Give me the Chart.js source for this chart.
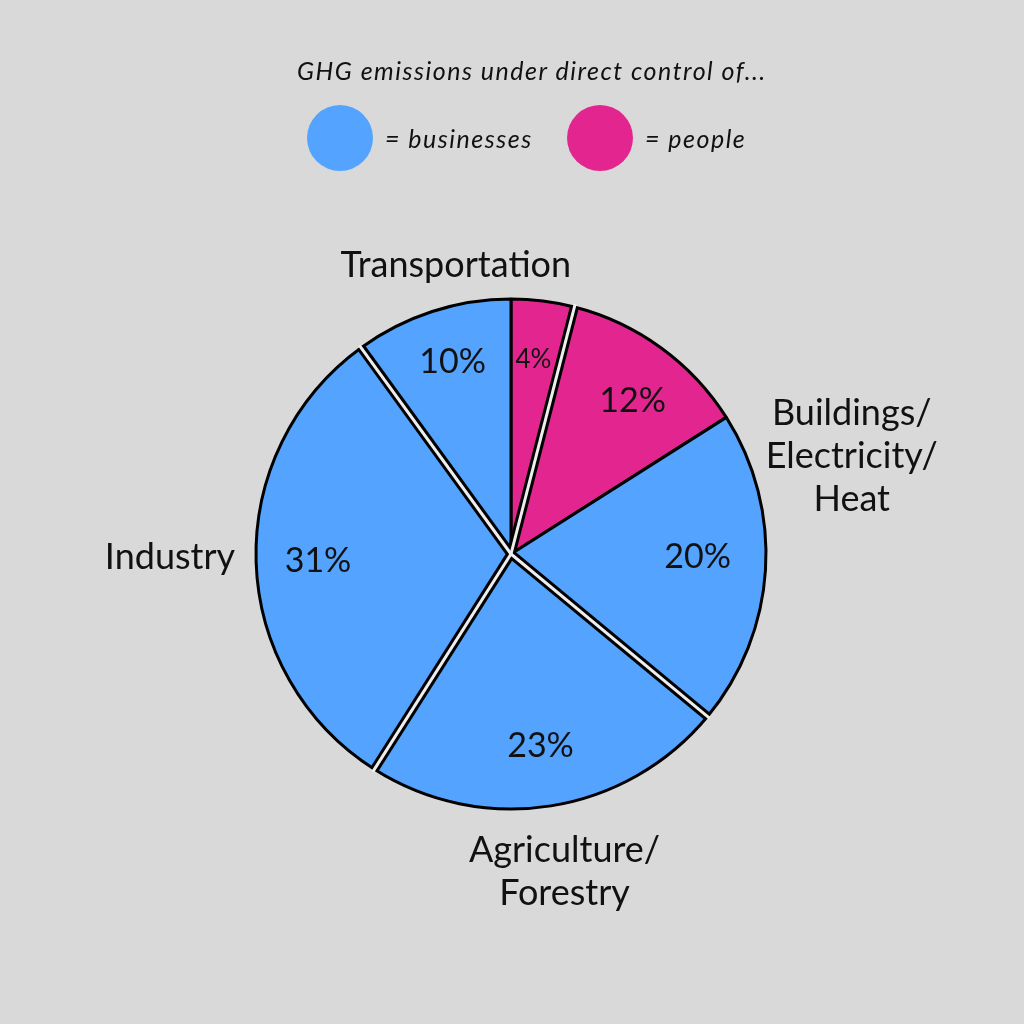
<!DOCTYPE html>
<html><head><meta charset="utf-8">
<script src="https://cdn.jsdelivr.net/npm/chart.js@4.4.1/dist/chart.umd.min.js"></script>
<style>
html,body{margin:0;padding:0;background:#d9d9d9;}
#wrap{position:relative;width:1024px;height:1024px;overflow:hidden;}
#c{position:absolute;left:0;top:0;}
#title{position:absolute;left:297px;top:55px;font:italic 25px Lato;letter-spacing:1.5px;color:#111;white-space:nowrap;}
.lg{position:absolute;top:105px;height:66px;display:flex;align-items:center;font:italic 25px Lato;letter-spacing:1.5px;color:#111;white-space:nowrap;}
.dot{width:66px;height:66px;border-radius:50%;margin-right:12px;}
</style></head>
<body>
<div id="wrap">
<canvas id="c" width="1024" height="1024"></canvas>
<div id="title">GHG emissions under direct control of...</div>
<div id="legend"></div>
</div>
<script>
const titleText = "GHG emissions under direct control of...";
const sectors = ["Transportation", "Buildings/\nElectricity/\nHeat", "Agriculture/\nForestry", "Industry"];
const sliceSector = [0, 1, 1, 2, 3, 0];
const sliceGroup = ["people", "people", "businesses", "businesses", "businesses", "businesses"];
const sliceValues = [4, 12, 20, 23, 31, 10];
const groupNames = ["businesses", "people"];

// styling / placement tweaks (not data)
const groupColors = { businesses: "#53a3ff", people: "#e3268f" };
const FONT = "Lato, 'Noto Sans', sans-serif";
const sectorLabelNudge = [[0, 0], [-5, 13], [4, 4], [-3, -9]];
const pctNudge = [[-2, -2], [7, 4], [-8, -10], [-1, -2], [2, 0], [2, -8]];

document.getElementById('title').textContent = titleText;
const legendLeft = [307, 567];
const lg = document.getElementById('legend');
groupNames.forEach((g, i) => {
  const d = document.createElement('div');
  d.className = 'lg';
  d.style.left = legendLeft[i] + 'px';
  d.innerHTML = '<div class="dot" style="background:' + groupColors[g] + '"></div><span>= ' + g + '</span>';
  lg.appendChild(d);
});

const gapPlugin = {
  id: 'sectorGaps',
  afterDatasetsDraw(chart) {
    const arcs = chart.getDatasetMeta(0).data;
    const ctx = chart.ctx;
    const n = arcs.length;
    const bounds = [];
    for (let i = 0; i < n; i++) {
      const j = (i + 1) % n;
      if (sliceSector[i] !== sliceSector[j]) bounds.push(arcs[i].endAngle);
    }
    const { x, y, outerRadius } = arcs[0];
    ctx.save();
    ctx.lineCap = 'butt';
    ctx.strokeStyle = '#000';
    ctx.lineWidth = 9;
    bounds.forEach(a => {
      ctx.beginPath(); ctx.moveTo(x, y);
      ctx.lineTo(x + Math.cos(a) * outerRadius, y + Math.sin(a) * outerRadius);
      ctx.stroke();
    });
    ctx.strokeStyle = '#eeeeee';
    ctx.lineWidth = 3;
    bounds.forEach(a => {
      ctx.beginPath(); ctx.moveTo(x, y);
      ctx.lineTo(x + Math.cos(a) * (outerRadius + 3), y + Math.sin(a) * (outerRadius + 3));
      ctx.stroke();
    });
    ctx.restore();
  }
};

// draw text so that its cap-height centre sits on (cx, cy)
function capText(ctx, txt, cx, cy, size) {
  ctx.fillText(txt, cx, cy + size * 0.36);
}

const labelPlugin = {
  id: 'labels',
  afterDraw(chart) {
    const arcs = chart.getDatasetMeta(0).data;
    const ctx = chart.ctx;
    const { x, y, outerRadius: r } = arcs[0];
    ctx.save();
    ctx.fillStyle = '#111';
    ctx.textAlign = 'center';
    ctx.textBaseline = 'alphabetic';
    arcs.forEach((arc, i) => {
      const mid = (arc.startAngle + arc.endAngle) / 2;
      const d = r * 0.765;
      const size = sliceValues[i] < 5 ? 26 : 34;
      ctx.font = size + 'px ' + FONT;
      capText(ctx, sliceValues[i] + '%', x + Math.cos(mid) * d + pctNudge[i][0], y + Math.sin(mid) * d + pctNudge[i][1], size);
    });
    const size = 36;
    ctx.font = size + 'px ' + FONT;
    const lh = 43, gap = 18;
    sectors.forEach((name, s) => {
      const idx = [];
      sliceSector.forEach((v, i) => { if (v === s) idx.push(i); });
      const ref = (arcs[idx[0]].startAngle + arcs[idx[0]].endAngle) / 2;
      let lo = Infinity, hi = -Infinity;
      idx.forEach(i => {
        let a0 = arcs[i].startAngle, a1 = arcs[i].endAngle;
        while (a0 - ref > Math.PI) { a0 -= 2 * Math.PI; a1 -= 2 * Math.PI; }
        while (ref - a1 > Math.PI) { a0 += 2 * Math.PI; a1 += 2 * Math.PI; }
        lo = Math.min(lo, a0); hi = Math.max(hi, a1);
      });
      const mid = (lo + hi) / 2;
      const lines = name.split('\n');
      let w = 0;
      lines.forEach(l => { w = Math.max(w, ctx.measureText(l).width); });
      const h = lines.length * lh;
      const c = Math.cos(mid), sn = Math.sin(mid);
      const ex = Math.abs(c) > 1e-6 ? (w / 2) / Math.abs(c) : Infinity;
      const ey = Math.abs(sn) > 1e-6 ? (h / 2) / Math.abs(sn) : Infinity;
      const d = r + gap + Math.min(ex, ey);
      const cx = x + c * d + sectorLabelNudge[s][0], cy = y + sn * d + sectorLabelNudge[s][1];
      lines.forEach((ln, k) => capText(ctx, ln, cx, cy + (k - (lines.length - 1) / 2) * lh, size));
    });
    ctx.restore();
  }
};

new Chart(document.getElementById('c'), {
  type: 'pie',
  data: {
    labels: sliceValues.map((v, i) => sectors[sliceSector[i]].replace(/\n/g, ' ') + ' (' + sliceGroup[i] + ')'),
    datasets: [{
      data: sliceValues,
      backgroundColor: sliceGroup.map(g => groupColors[g]),
      borderColor: '#000',
      borderWidth: 3,
      radius: 255
    }]
  },
  options: {
    responsive: false,
    animation: false,
    layout: { padding: { left: 200, right: 202, top: 284, bottom: 200 } },
    plugins: { legend: { display: false }, tooltip: { enabled: false }, title: { display: false } }
  },
  plugins: [gapPlugin, labelPlugin]
});
</script>
</body></html>
